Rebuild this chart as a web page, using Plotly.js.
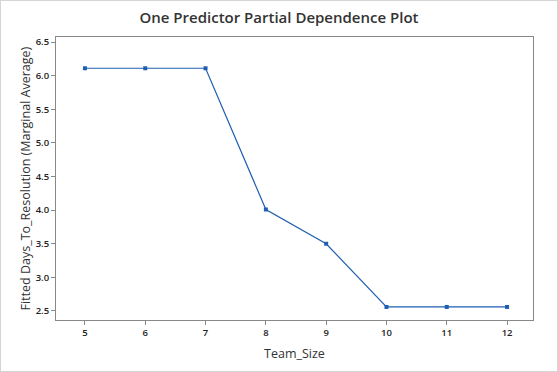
<!DOCTYPE html>
<html><head><meta charset="utf-8">
<script src="https://cdn.plot.ly/plotly-3.0.1.min.js"></script>
<style>html,body{margin:0;padding:0;background:#fff}#c{width:556px;height:370px;border:1px solid #d4d4d4}</style>
</head><body><div id="c"></div>
<script>
const teamSize = [5, 6, 7, 8, 9, 10, 11, 12];
const fitted = [6.11, 6.11, 6.11, 4.01, 3.50, 2.56, 2.56, 2.56];
const yTicks = [2.5, 3.0, 3.5, 4.0, 4.5, 5.0, 5.5, 6.0, 6.5];
const yTickText = ["2.5","3.0","3.5","4.0","4.5","5.0","5.5","6.0","6.5"];
const yTitle = 'Fitted Days_To_Resolution (Marginal Average)';
const F = "'Open Sans', 'Noto Sans', sans-serif";
Plotly.newPlot('c', [{
  x: teamSize, y: fitted, type: 'scatter', mode: 'lines+markers',
  line: {color: '#1f5fb0', width: 1.2},
  marker: {symbol: 'square', size: 4, color: '#1f5fb0'},
  hoverinfo: 'none'
}], {
  width: 556, height: 370,
  margin: {l: 55, r: 24, t: 36, b: 51},
  paper_bgcolor: '#fff', plot_bgcolor: '#fff',
  title: {text: 'One Predictor Partial Dependence Plot', x: 0.5, xanchor: 'center', y: 0.955, yanchor: 'middle',
          font: {family: F, size: 15, color: '#333', weight: 600}},
  xaxis: {range: [4.52, 12.43], tickvals: teamSize, ticktext: teamSize.map(String),
          ticks: 'outside', ticklen: 4, tickcolor: '#888', showgrid: false, zeroline: false,
          showline: true, linecolor: '#888', mirror: true, linewidth: 1,
          tickfont: {family: F, size: 9.5, color: '#222', weight: 600},
          title: {text: 'Team_Size', font: {family: F, size: 12.5, color: '#333'}, standoff: 10}},
  yaxis: {range: [2.366, 6.575], tickvals: yTicks, ticktext: yTickText,
          ticks: 'outside', ticklen: 4, tickcolor: '#888', showgrid: false, zeroline: false,
          showline: true, linecolor: '#888', mirror: true, linewidth: 1,
          tickfont: {family: F, size: 9.5, color: '#222', weight: 600}},
  annotations: [{text: yTitle, textangle: -90, xref: 'paper', yref: 'paper', x: 0, y: 0.5,
                 xanchor: 'center', yanchor: 'middle', xshift: -31, showarrow: false,
                 font: {family: F, size: 12.5, color: '#333'}}],
  showlegend: false
}, {displayModeBar: false, staticPlot: true});
</script></body></html>
